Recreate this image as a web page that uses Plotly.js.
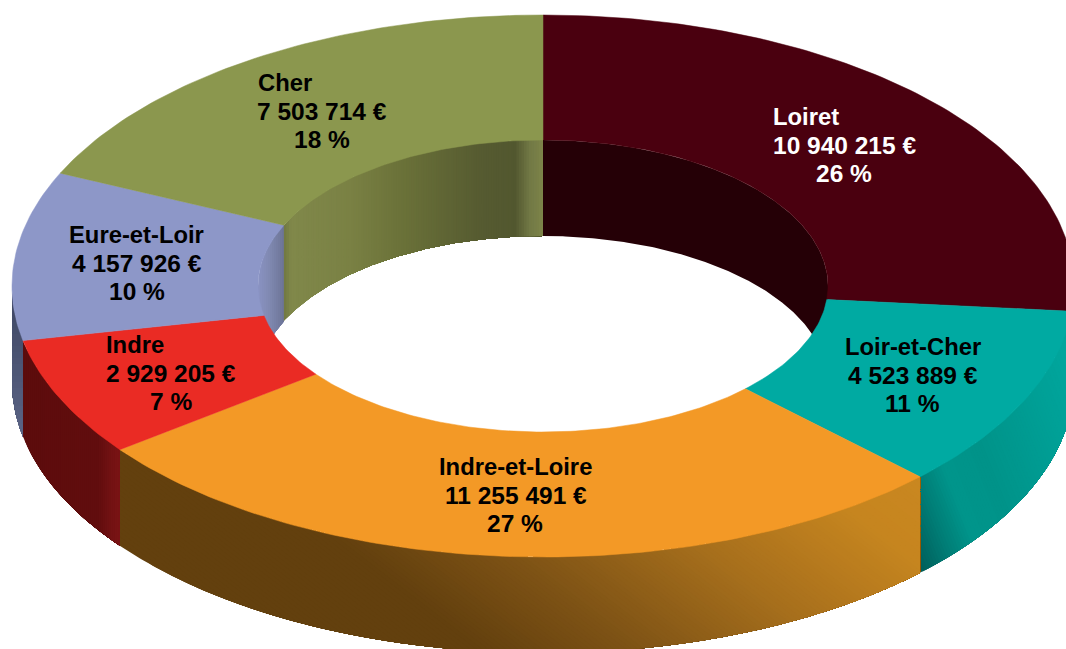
<!DOCTYPE html>
<html><head><meta charset="utf-8">
<script src="https://cdn.plot.ly/plotly-3.0.1.min.js"></script>
<style>html,body{margin:0;padding:0;background:#fff;overflow:hidden}#c{width:1066px;height:649px}</style>
</head><body><div id="c"></div>
<script>
// --- data ---
const categories = ['Loiret','Loir-et-Cher','Indre-et-Loire','Indre','Eure-et-Loir','Cher'];
const amounts = [10940215,4523889,11255491,2929205,4157926,7503714];

// --- styles and geometry ---
const topColors = ['#4a000f','#00aaa2','#f39926','#ea2b24','#8d97c8','#8b974e'];
const labelColors = ['#ffffff','#000000','#000000','#000000','#000000','#000000'];
const labelCenterX = [844.5,913,515.5,171,137,322];
const labelMidY = [145,375,495,373,263,111];
const labelFirstLeftX = [770.5,null,null,103.5,null,255.5];
const CX=543, CY=286, RX=531, RY=271, IX=285, IY=146, DEPTH=96;
const LINE_GAP=28, FONT_SIZE=24.5, NAME_FONT_SIZE=23.8;

// each gradient: v = ax*x + ay*y, colour ramp over v, level step
const outerGrad = {
  0:{ax:1,ay:0,step:500,stops:[[1000,'#2a0008'],[1100,'#2a0008']]},
  1:{ax:1,ay:-0.4,step:3,stops:[[687,'#005a56'],[727,'#007d76'],[757,'#00958b'],[802,'#009389'],[922,'#00a69d']]},
  2:{ax:1,ay:-1.3,step:6,stops:[[-365,'#63400e'],[-215,'#7d5215'],[-15,'#a56e1c'],[185,'#c6851f'],[295,'#c98720']]},
  3:{ax:1,ay:0,step:2,stops:[[22,'#5c0c0c'],[98,'#610d0e'],[112,'#741213'],[120,'#7a1415']]},
  4:{ax:0,ay:1,step:6,stops:[[290,'#3d4562'],[430,'#5a6384']]}
};
const innerGrad = {
  0:{ax:1,ay:0,step:500,stops:[[543,'#250006'],[840,'#250006']]},
  4:{ax:1,ay:0,step:2,stops:[[258,'#8a93c3'],[270,'#7f88b0'],[284,'#6c7496']]},
  5:{ax:1,ay:0,step:2.5,stops:[[283,'#6e7540'],[291,'#80884a'],[350,'#7a8144'],[400,'#6b7239'],[480,'#565b31'],[515,'#52572f'],[530,'#727945'],[543,'#7d8449']]}
};

// --- helpers ---
const rad=d=>d*Math.PI/180;
const hex=c=>[1,3,5].map(i=>parseInt(c.substr(i,2),16));
const toHex=a=>'#'+a.map(v=>Math.max(0,Math.min(255,Math.round(v))).toString(16).padStart(2,'0')).join('');
function ramp(stops,v){
  if(v<=stops[0][0])return hex(stops[0][1]);
  for(let i=1;i<stops.length;i++){
    if(v<=stops[i][0]){
      const f=(v-stops[i-1][0])/(stops[i][0]-stops[i-1][0]);
      const a=hex(stops[i-1][1]),b=hex(stops[i][1]);
      return a.map((c,k)=>c+(b[k]-c)*f);
    }
  }
  return hex(stops[stops.length-1][1]);
}
const px=(r,d)=>CX+r*Math.sin(rad(d));
const py=(r,d)=>CY-r*Math.cos(rad(d));

const total=amounts.reduce((a,b)=>a+b,0);
let acc=0;
const wedges=amounts.map((v,i)=>{const a=acc/total*360;acc+=v;return{i,from:a,to:acc/total*360};});

const polyTrace=(color,pts)=>({type:'scatter',mode:'lines',x:[...pts.map(p=>p[0]),pts[0][0]],y:[...pts.map(p=>p[1]),pts[0][1]],
  fill:'toself',fillcolor:color,line:{width:0,color:color},hoverinfo:'skip',showlegend:false});

function wallPolygon(r,ry,d0,d1){
  const n=Math.max(2,Math.ceil((d1-d0)*2)),pts=[];
  for(let k=0;k<=n;k++){const d=d0+(d1-d0)*k/n;pts.push([px(r,d),py(ry,d)]);}
  for(let k=n;k>=0;k--){const d=d0+(d1-d0)*k/n;pts.push([px(r,d),py(ry,d)+DEPTH]);}
  return pts;
}
// keep the part of a polygon where v >= level
function clipAbove(pts,vf,level){
  const out=[];
  for(let i=0;i<pts.length;i++){
    const p=pts[i],q=pts[(i+1)%pts.length],vp=vf(p),vq=vf(q);
    if(vp>=level)out.push(p);
    if((vp>=level)!==(vq>=level)){
      const f=(level-vp)/(vq-vp);
      out.push([p[0]+(q[0]-p[0])*f,p[1]+(q[1]-p[1])*f]);
    }
  }
  return out;
}
// Painter's order: each level repaints everything above it, so there are no seams.
function gradientWall(pts,g){
  const vf=p=>g.ax*p[0]+g.ay*p[1];
  const vs=pts.map(vf),lo=Math.min(...vs),hi=Math.max(...vs),res=[];
  res.push(polyTrace(toHex(ramp(g.stops,lo+Math.min(g.step,hi-lo)/2)),pts));
  for(let lv=lo+g.step;lv<hi;lv+=g.step){
    const c=clipAbove(pts,vf,lv);
    if(c.length>2)res.push(polyTrace(toHex(ramp(g.stops,lv+g.step/2)),c));
  }
  return res;
}

// outer wall: front part of the ring
const outerTraces=[];
wedges.forEach(w=>{
  const g=outerGrad[w.i]; if(!g)return;
  const a=Math.max(w.from,90),b=Math.min(w.to,270); if(b<=a)return;
  outerTraces.push(...gradientWall(wallPolygon(RX,RY,a,b),g));
});

// inner wall: back part of the hole
const innerTraces=[];
wedges.forEach(w=>{
  const g=innerGrad[w.i]; if(!g)return;
  [[0,90],[270,360]].forEach(([lo,hi])=>{
    const a=Math.max(w.from,lo),b=Math.min(w.to,hi); if(b<=a)return;
    innerTraces.push(...gradientWall(wallPolygon(IX,IY,a,b),g));
  });
});

// top face of each slice
const topTraces=wedges.map(w=>{
  const xs=[],ys=[],n=Math.ceil(w.to-w.from);
  for(let k=0;k<=n;k++){const d=w.from+(w.to-w.from)*k/n;xs.push(px(RX,d));ys.push(py(RY,d));}
  for(let k=n;k>=0;k--){const d=w.from+(w.to-w.from)*k/n;xs.push(px(IX,d));ys.push(py(IY,d));}
  xs.push(xs[0]);ys.push(ys[0]);
  return {type:'scatter',mode:'lines',x:xs,y:ys,fill:'toself',fillcolor:topColors[w.i],
    line:{color:topColors[w.i],width:0.5},name:categories[w.i],hoverinfo:'skip',showlegend:false};
});

// labels
const fmt=v=>String(v).replace(/\B(?=(\d{3})+$)/g,' ')+' €';
const annotations=[];
categories.forEach((name,i)=>{
  const fam='"Liberation Sans",Arial,sans-serif';
  const font={family:fam,size:FONT_SIZE,color:labelColors[i]};
  const base={xref:'x',yref:'y',showarrow:false,yanchor:'middle',font};
  const first=labelFirstLeftX[i];
  annotations.push(Object.assign({},base,{text:'<b>'+name+'</b>',font:{family:fam,size:NAME_FONT_SIZE,color:labelColors[i]},
    x:first===null?labelCenterX[i]-0.5:first,xanchor:first===null?'center':'left',y:labelMidY[i]-LINE_GAP-0.25}));
  annotations.push(Object.assign({},base,{text:'<b>'+fmt(amounts[i])+'</b>',x:labelCenterX[i],xanchor:'center',y:labelMidY[i]}));
  annotations.push(Object.assign({},base,{text:'<b>'+Math.round(amounts[i]/total*100)+' %</b>',x:labelCenterX[i]-0.5,xanchor:'center',y:labelMidY[i]+LINE_GAP}));
});

const data=[...outerTraces,...innerTraces,...topTraces];
const hidden={visible:false,fixedrange:true};
Plotly.newPlot('c',data,{
  width:1066,height:649,margin:{l:0,r:0,t:0,b:0},
  paper_bgcolor:'#ffffff',plot_bgcolor:'#ffffff',showlegend:false,
  xaxis:Object.assign({range:[0,1066]},hidden),
  yaxis:Object.assign({range:[649,0]},hidden),
  annotations
},{displayModeBar:false,staticPlot:true});
</script></body></html>
